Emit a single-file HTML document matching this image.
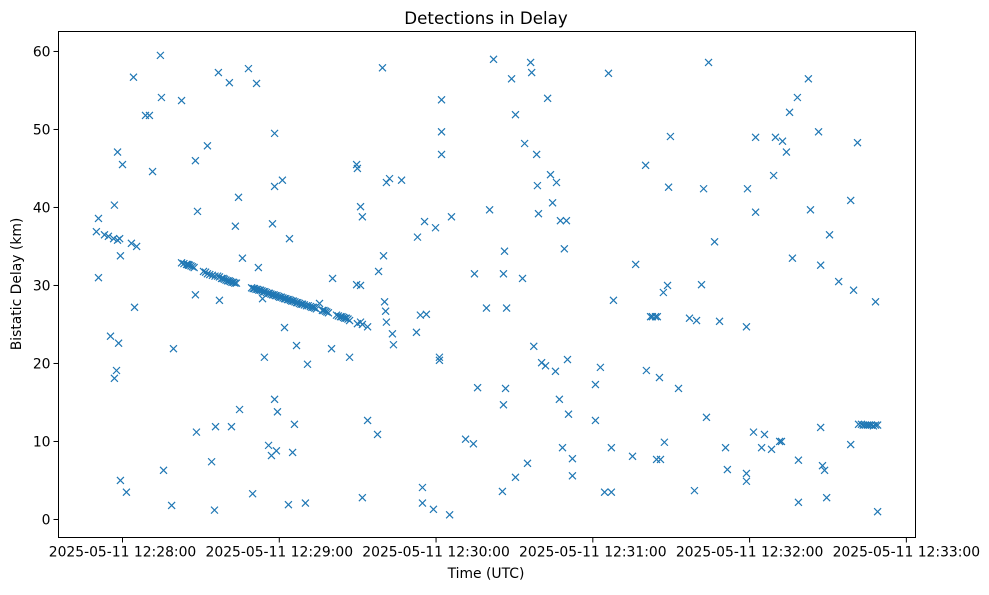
<!DOCTYPE html>
<html><head><meta charset="utf-8"><style>
body{margin:0;background:#fff;}
svg text{font-family:"DejaVu Sans","Liberation Sans",sans-serif;fill:#000;}
</style></head><body>
<svg id="chart" width="989" height="590" xmlns="http://www.w3.org/2000/svg">
<rect width="989" height="590" fill="#fff"/>
<text x="486" y="24" font-size="16.7" text-anchor="middle">Detections in Delay</text>
<text x="486" y="578" font-size="13.9" text-anchor="middle">Time (UTC)</text>
<text x="0" y="0" font-size="13.9" text-anchor="middle" transform="translate(21,284) rotate(-90)">Bistatic Delay (km)</text>
<g id="marks"></g>
<g id="axes"></g>
<rect x="58.5" y="31.5" width="857" height="506" fill="none" stroke="#000" stroke-width="1"/>
</svg>
<script>
const xTickValues=[0,60,120,180,240,300];
const xTickLabels=["2025-05-11 12:28:00","2025-05-11 12:29:00","2025-05-11 12:30:00","2025-05-11 12:31:00","2025-05-11 12:32:00","2025-05-11 12:33:00"];
const yTickValues=[0,10,20,30,40,50,60];
const yTickLabels=["0","10","20","30","40","50","60"];
// seconds after 12:28:00 UTC
const times=[-10,-9.2,-9.2,-6.9,-5.4,-4.6,-3.4,-3.1,-3.1,-2.3,-1.9,-1.9,-1.5,-1.1,-0.8,-0.8,0,1.5,3.4,4.2,4.6,5.4,8.8,10.3,11.5,14.5,14.9,15.7,18.8,19.5,22.6,
22.6,23.5,24.5,25.0,25.6,26.2,26.8,27.4,31.0,31.8,32.5,33.4,34.4,35.4,36.4,37.1,37.9,38.5,39.0,39.6,40.2,40.8,41.3,41.9,42.5,43.0,43.6,
49.4,50.0,50.5,51.1,51.7,52.2,52.8,53.4,54.0,54.5,55.1,55.7,56.2,56.8,57.4,58.0,58.5,59.1,59.7,60.2,60.8,61.4,62.0,62.5,63.1,63.7,64.3,64.8,65.4,66.0,66.6,67.1,67.7,68.3,68.9,69.6,70.4,71.1,71.9,72.5,73.1,73.6,74.2,75.4,76.5,77.1,77.7,78.2,78.8,81.9,82.6,83.4,84.0,84.6,85.1,85.7,86.3,86.9,89.9,91.8,93.8,
25.3,27.9,28.3,28.7,27.9,32.5,34.1,35.2,35.6,36.7,37.1,40.9,41.7,
44.4,43.2,45.9,44.8,48.2,49.8,51.3,52.0,53.6,54.3,55.9,57.0,57.4,58.2,58.2,58.9,58.2,59.3,61.2,62.0,63.5,63.9,65.1,65.8,66.6,70.0,70.8,80.4,80.0,86.9,89.6,89.9,91.1,91.8,91.8,93.8,97.6,98.0,99.5,99.9,100.3,100.7,101.0,101.0,102.2,103.3,103.7,106.8,89.6,91.1,91.1,
112.5,112.9,114.0,114.8,114.8,115.6,116.3,119.0,119.8,121.3,121.3,122.1,122.1,122.1,125.2,125.9,131.3,134.3,134.7,135.9,139.3,140.5,142.0,145.4,145.8,145.8,146.2,146.6,147.0,148.9,150.4,150.4,153.1,153.9,155.0,156.2,156.6,157.4,158.5,158.8,159.2,160.4,161.9,162.7,163.8,164.6,165.7,166.1,167.2,167.6,168.4,169.1,169.9,170.3,170.7,172.2,172.2,
181.0,181.0,182.9,184.5,186.0,187.1,187.1,187.9,195.2,196.4,200.2,200.5,202.1,202.8,204.0,204.7,204.4,205.5,205.9,207.0,207.4,208.6,209.0,209.7,212.8,217.0,218.9,219.7,221.6,222.4,223.5,224.3,226.6,228.5,230.8,231.5,
238.8,239.2,238.8,238.8,241.5,242.3,242.3,244.6,245.7,248.4,249.2,249.9,251.5,252.2,252.6,254.1,255.3,256.4,258.3,258.7,258.7,262.5,263.3,266.4,267.2,267.2,267.9,268.7,269.5,270.6,274.1,278.7,278.7,279.8,281.3,281.7,282.8,283.5,284.3,285.1,285.8,286.6,287.4,288.2,289.0,288.2,289.0];
const delays=[36.9,38.6,31.0,36.5,36.3,23.5,36.0,40.3,18.1,19.1,47.1,35.8,22.6,36.0,33.8,5.0,45.5,3.5,35.4,56.7,27.2,35.0,51.8,51.8,44.6,59.5,54.1,6.3,1.8,21.9,53.7,
32.9,32.8,32.7,32.7,32.6,32.5,32.4,32.3,31.8,31.7,31.5,31.4,31.3,31.2,31.2,31.1,30.9,30.9,30.8,30.7,30.6,30.6,30.5,30.4,30.4,30.3,30.3,
29.7,29.6,29.6,29.5,29.5,29.4,29.4,29.3,29.2,29.2,29.1,29.0,29.0,28.9,28.8,28.8,28.7,28.7,28.6,28.5,28.5,28.4,28.3,28.3,28.2,28.2,28.1,28.0,28.0,27.9,27.8,27.8,27.7,27.6,27.6,27.5,27.4,27.4,27.3,27.2,27.2,27.1,27.0,27.7,26.8,26.8,26.7,26.6,26.5,26.2,26.1,26.0,26.0,25.9,25.8,25.8,25.7,25.5,25.1,25.0,24.7,
32.6,28.8,11.2,39.5,46.0,47.9,7.4,1.2,11.9,57.3,28.1,56.0,11.9,
41.3,37.6,33.5,14.1,57.8,3.3,55.9,32.3,28.3,20.8,9.5,8.2,37.9,49.5,42.7,8.8,15.4,13.8,43.5,24.6,1.9,36.0,8.6,12.2,22.3,2.1,19.9,30.9,21.9,20.8,45.5,45.0,40.1,38.8,2.8,12.7,10.9,31.8,57.9,33.8,27.9,26.7,43.2,25.3,43.7,23.8,22.4,43.5,30.1,30.0,25.3,
24.0,36.2,26.2,4.1,2.1,38.2,26.3,1.3,37.4,20.8,20.4,53.8,49.7,46.8,0.6,38.8,10.3,9.7,31.5,16.9,27.1,39.7,59.0,3.6,14.7,31.5,34.4,16.8,27.1,56.5,51.9,5.4,30.9,48.2,7.2,58.6,57.3,22.2,46.8,42.8,39.2,20.1,19.7,54.0,44.2,40.6,19.0,43.2,15.4,38.3,9.2,34.7,38.3,20.5,13.5,7.8,5.6,
17.3,12.7,19.5,3.5,57.2,9.2,3.5,28.1,8.1,32.7,45.4,19.1,26.0,26.0,26.0,26.0,7.7,18.2,7.7,29.1,9.9,30.0,42.6,49.1,16.8,25.8,3.7,25.5,30.1,42.4,13.1,58.6,35.6,25.4,9.2,6.4,
24.7,42.4,5.9,4.9,11.2,39.4,49.0,9.2,10.9,9.0,44.1,49.0,10.0,10.0,48.5,47.1,52.2,33.5,54.1,2.2,7.6,56.5,39.7,49.7,11.8,32.6,6.9,6.3,2.8,36.5,30.5,40.9,9.6,29.4,48.3,12.2,12.2,12.1,12.1,12.1,12.1,12.1,12.0,12.1,12.1,27.9,1.0];

const L=58.5,R=915.5,T=31.5,B=537.5;
const xMin=-24.5,xMax=303.5,yMin=-2.31,yMax=62.56;
const sx=v=>L+(v-xMin)/(xMax-xMin)*(R-L);
const sy=v=>B-(v-yMin)/(yMax-yMin)*(B-T);
const NS="http://www.w3.org/2000/svg";
const axes=document.getElementById('axes');
xTickValues.forEach((v,i)=>{
  const x=sx(v);
  const ln=document.createElementNS(NS,'line');
  ln.setAttribute('x1',x);ln.setAttribute('x2',x);ln.setAttribute('y1',B);ln.setAttribute('y2',B+5);
  ln.setAttribute('stroke','#000');
  
  
  axes.appendChild(ln);
  const t=document.createElementNS(NS,'text');
  t.setAttribute('x',x);t.setAttribute('y',B+19);t.setAttribute('font-size','13.9');t.setAttribute('text-anchor','middle');
  t.textContent=xTickLabels[i];
  
  
  axes.appendChild(t);
});
yTickValues.forEach((v,i)=>{
  const y=sy(v);
  const ln=document.createElementNS(NS,'line');
  ln.setAttribute('x1',L-5);ln.setAttribute('x2',L);ln.setAttribute('y1',y);ln.setAttribute('y2',y);
  ln.setAttribute('stroke','#000');
  
  
  axes.appendChild(ln);
  const t=document.createElementNS(NS,'text');
  t.setAttribute('x',L-8);t.setAttribute('y',y+5);t.setAttribute('font-size','13.9');t.setAttribute('text-anchor','end');
  t.textContent=yTickLabels[i];
  
  
  axes.appendChild(t);
});
const marks=document.getElementById('marks');
const n=Math.min(times.length,delays.length);
for(let i=0;i<n;i++){
  const x=sx(times[i]),y=sy(delays[i]),s=3.5;
  const p=document.createElementNS(NS,'path');
  p.setAttribute('d',`M${x-s},${y-s}L${x+s},${y+s}M${x-s},${y+s}L${x+s},${y-s}`);
  p.setAttribute('stroke','#1f77b4');p.setAttribute('stroke-width','1.2');p.setAttribute('fill','none');
  
  
  marks.appendChild(p);
}
</script>
</body></html>
